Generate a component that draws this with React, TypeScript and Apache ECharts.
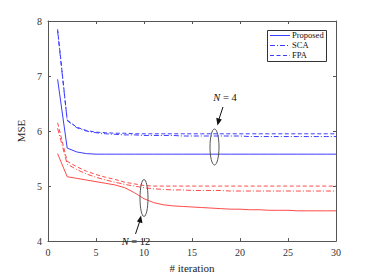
import React, { useEffect, useRef } from "react";
import * as echarts from "echarts";

const iterations = Array.from({ length: 30 }, (_, i) => i + 1);

const proposedN4 = [6.94, 5.69, 5.62, 5.59, 5.58, 5.58, 5.58, 5.58, 5.58, 5.58, 5.58, 5.58, 5.58, 5.58, 5.58, 5.58, 5.58, 5.58, 5.58, 5.58, 5.58, 5.58, 5.58, 5.58, 5.58, 5.58, 5.58, 5.58, 5.58, 5.58];
const scaN4 = [7.82, 6.19, 6.06, 6.0, 5.97, 5.95, 5.94, 5.93, 5.93, 5.92, 5.92, 5.92, 5.92, 5.91, 5.91, 5.91, 5.91, 5.91, 5.91, 5.91, 5.9, 5.9, 5.9, 5.9, 5.9, 5.9, 5.9, 5.9, 5.9, 5.9];
const fpaN4 = [7.85, 6.2, 6.07, 6.01, 5.98, 5.97, 5.96, 5.96, 5.95, 5.95, 5.95, 5.95, 5.95, 5.95, 5.95, 5.95, 5.95, 5.95, 5.95, 5.95, 5.95, 5.95, 5.95, 5.95, 5.95, 5.95, 5.95, 5.95, 5.95, 5.95];

const proposedN12 = [5.59, 5.17, 5.14, 5.11, 5.08, 5.05, 5.02, 4.97, 4.88, 4.77, 4.7, 4.66, 4.64, 4.63, 4.62, 4.61, 4.6, 4.59, 4.58, 4.58, 4.57, 4.57, 4.56, 4.56, 4.56, 4.55, 4.55, 4.55, 4.55, 4.55];
const scaN12 = [6.05, 5.4, 5.3, 5.22, 5.16, 5.11, 5.07, 5.03, 5.0, 4.97, 4.95, 4.94, 4.93, 4.93, 4.92, 4.92, 4.92, 4.92, 4.91, 4.91, 4.91, 4.91, 4.91, 4.91, 4.91, 4.91, 4.91, 4.91, 4.91, 4.91];
const fpaN12 = [6.15, 5.45, 5.35, 5.27, 5.21, 5.16, 5.12, 5.07, 5.04, 5.01, 5.0, 5.0, 5.0, 5.0, 5.0, 5.0, 5.0, 5.0, 5.0, 5.0, 5.0, 5.0, 5.0, 5.0, 5.0, 5.0, 5.0, 5.0, 5.0, 5.0];

const legendNames = ["Proposed", "SCA", "FPA"];
const xTicks = { min: 0, max: 30, interval: 5 };
const yTicks = { min: 4, max: 8, interval: 1 };

const BLUE = "#3c3cff";
const RED = "#ff4a4a";
const AXIS = "#555555";
const FONT = "Liberation Serif";
const DASHDOT = [5, 2, 1, 2];
const DASH = [4, 2.5];
const STYLES: any[] = ["solid", DASHDOT, DASH];

export default function App() {
  const ref = useRef<HTMLDivElement>(null);
  useEffect(() => {
    if (!ref.current) return;
    const chart = echarts.init(ref.current, null, { renderer: "svg" });
    const mk = (name: string, data: number[], color: string, type: any) => ({
      name,
      type: "line",
      data: iterations.map((x, i) => [x, data[i]]),
      showSymbol: false,
      symbol: "none",
      lineStyle: { color, width: 1, type },
      itemStyle: { color },
      z: 2,
    });
    const axisCommon = {
      axisLine: { show: true, onZero: false, lineStyle: { color: AXIS, width: 1 } },
      axisTick: { show: true, inside: true, length: 3, lineStyle: { color: AXIS } },
      splitLine: { show: false },
    };
    const legendRows = [35, 45, 55];
    const legendGraphic: any[] = [
      { type: "rect", shape: { x: 267.5, y: 30.5, width: 59, height: 31 }, style: { fill: "#fff", stroke: "#333", lineWidth: 1 }, z: 20 },
    ];
    legendNames.forEach((n, i) => {
      legendGraphic.push({
        type: "line",
        shape: { x1: 270, y1: legendRows[i] + 0.5, x2: 290, y2: legendRows[i] + 0.5 },
        style: { stroke: BLUE, lineWidth: 1, lineDash: STYLES[i] === "solid" ? null : STYLES[i] },
        z: 21,
      });
      legendGraphic.push({
        type: "text",
        x: 292,
        y: legendRows[i],
        style: { text: n, fontFamily: FONT, fontSize: 8.5, fill: "#111", verticalAlign: "middle", align: "left" },
        z: 21,
      });
    });
    chart.setOption({
      animation: false,
      backgroundColor: "#ffffff",
      textStyle: { fontFamily: FONT },
      grid: { left: 48, top: 21, right: 35, bottom: 31 },
      xAxis: [
        {
          type: "value",
          ...xTicks,
          position: "bottom",
          ...axisCommon,
          axisLabel: { color: "#333", fontSize: 10, fontFamily: FONT, margin: 6 },
          name: "# iteration",
          nameLocation: "middle",
          nameGap: 16,
          nameTextStyle: { color: "#222", fontSize: 11, fontFamily: FONT },
        },
        {
          type: "value",
          ...xTicks,
          position: "top",
          ...axisCommon,
          axisLabel: { show: false },
        },
      ],
      yAxis: [
        {
          type: "value",
          ...yTicks,
          position: "left",
          ...axisCommon,
          axisLabel: { color: "#333", fontSize: 10, fontFamily: FONT, margin: 6 },
          name: "MSE",
          nameLocation: "middle",
          nameGap: 18,
          nameTextStyle: { color: "#222", fontSize: 11, fontFamily: FONT },
        },
        {
          type: "value",
          ...yTicks,
          position: "right",
          ...axisCommon,
          axisLabel: { show: false },
        },
      ],
      series: [
        mk("Proposed", proposedN4, BLUE, "solid"),
        mk("SCA", scaN4, BLUE, DASHDOT),
        mk("FPA", fpaN4, BLUE, DASH),
        mk("Proposed", proposedN12, RED, "solid"),
        mk("SCA", scaN12, RED, DASHDOT),
        mk("FPA", fpaN12, RED, DASH),
      ],
      graphic: [
        ...legendGraphic,
        { type: "ellipse", shape: { cx: 214.5, cy: 147, rx: 4.5, ry: 18 }, style: { fill: "none", stroke: "#555", lineWidth: 1 }, z: 10 },
        { type: "ellipse", shape: { cx: 144, cy: 198, rx: 4, ry: 18.5 }, style: { fill: "none", stroke: "#555", lineWidth: 1 }, z: 10 },
        { type: "line", shape: { x1: 223, y1: 107, x2: 219, y2: 119 }, style: { stroke: "#111", lineWidth: 1 }, z: 10 },
        { type: "polygon", shape: { points: [[217.5, 125.5], [216.2, 117.8], [221.8, 119.6]] }, style: { fill: "#111" }, z: 10 },
        { type: "line", shape: { x1: 135.5, y1: 234, x2: 139.5, y2: 222 }, style: { stroke: "#111", lineWidth: 1 }, z: 10 },
        { type: "polygon", shape: { points: [[141, 215.5], [142.5, 223.2], [136.9, 221.4]] }, style: { fill: "#111" }, z: 10 },
        {
          type: "text",
          x: 225,
          y: 97,
          style: {
            text: "{i|N} = 4",
            align: "center",
            verticalAlign: "middle",
            fontFamily: FONT,
            fontSize: 10.5,
            fill: "#111",
            rich: { i: { fontStyle: "italic", fontFamily: FONT, fontSize: 10.5, fill: "#111" } },
          },
          z: 10,
        },
        {
          type: "text",
          x: 136,
          y: 241,
          style: {
            text: "{i|N} = 12",
            align: "center",
            verticalAlign: "middle",
            fontFamily: FONT,
            fontSize: 10.5,
            fill: "#111",
            rich: { i: { fontStyle: "italic", fontFamily: FONT, fontSize: 10.5, fill: "#111" } },
          },
          z: 10,
        },
      ],
    });
    return () => chart.dispose();
  }, []);
  return (
    <div
      ref={ref}
      style={{ position: "fixed", left: 0, top: 0, width: 371, height: 278, background: "#fff" }}
    />
  );
}
